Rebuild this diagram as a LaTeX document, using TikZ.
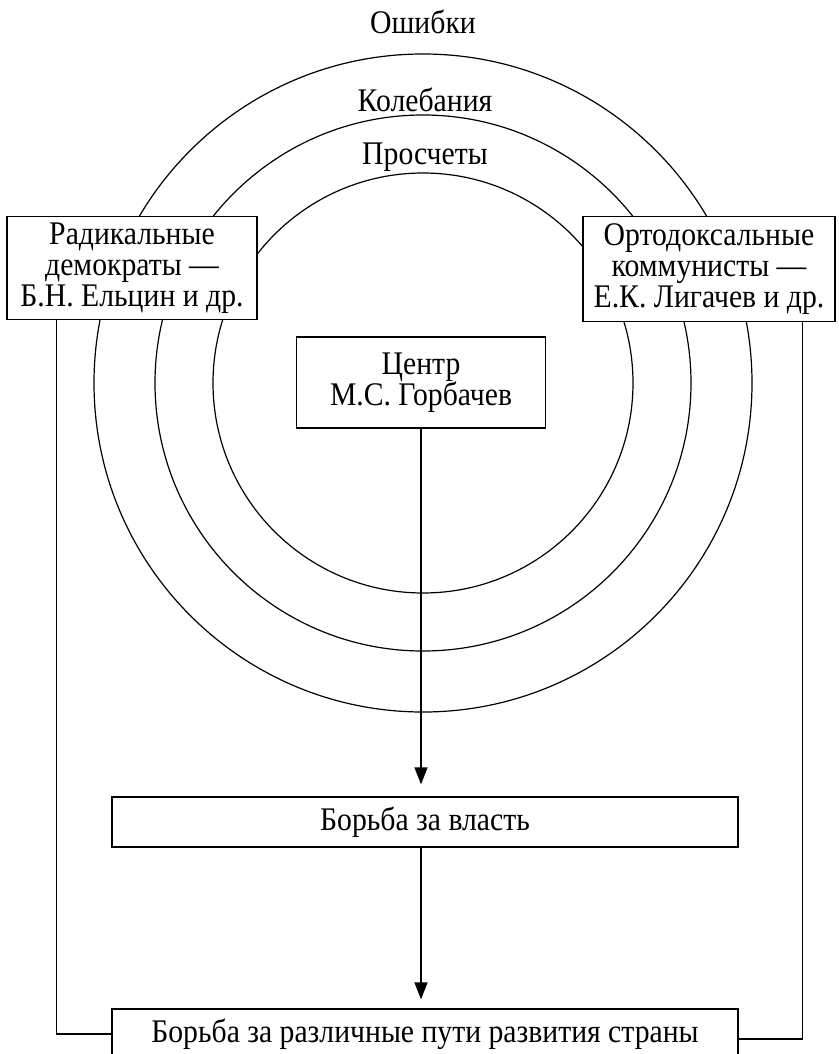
\documentclass[tikz,border=0pt]{standalone}
\usepackage{fontspec}
\setmainfont[FakeStretch=0.9]{Liberation Serif}
\usetikzlibrary{arrows.meta}

\tikzset{
  box/.style={draw,fill=white,align=center,inner sep=0pt},
  ring/.style={line width=1.2pt}
}

\begin{document}
\begin{tikzpicture}[x=1pt,y=1pt,line width=1.3pt,>={Triangle[length=17pt,width=13pt]},
  font=\fontsize{33}{31}\selectfont]
  \useasboundingbox (0,0) rectangle (838,-1054);
  \begin{scope}
  \clip (0,0) rectangle (838,-1054);
  \coordinate (O) at (423,-383);
  % three rings
  \draw[ring] (O) circle (329);
  \draw[ring] (O) circle (268);
  \draw[ring] (O) circle (210);
  \node (oshibki) at (423,-22) {Ошибки};
  \node (koleb) at (425,-100) {Колебания};
  \node (prosch) at (425,-157) {Просчеты};
  % boxes
  \node[box,minimum width=250,minimum height=103] (rad) at (132,-268)
    {Радикальные\\демократы —\\Б.Н. Ельцин и др.};
  \node[box,minimum width=252,minimum height=105] (orto) at (709,-269)
    {Ортодоксальные\\коммунисты —\\Е.К. Лигачев и др.};
  \node[box,minimum width=249,minimum height=91] (centr) at (421,-382.5)
    {Центр\\М.С. Горбачев};
  \node[box,minimum width=626,minimum height=50] (vlast) at (425,-822)
    {Борьба за власть};
  \node[box,minimum width=626,minimum height=50] (puti) at (425,-1034)
    {Борьба за различные пути развития страны};
  % connectors
  \draw[->,shorten >=12pt] (centr.south) -- (centr.south |- vlast.north);
  \draw[->,shorten >=9pt] (vlast.south -| centr.south) -- (centr.south |- puti.north);
  \draw (rad.south west) ++(50,0) |- (puti.west);
  \draw (orto.south east) ++(-33,0) |- ([yshift=-5pt]puti.east);
  \end{scope}
\end{tikzpicture}
\end{document}
